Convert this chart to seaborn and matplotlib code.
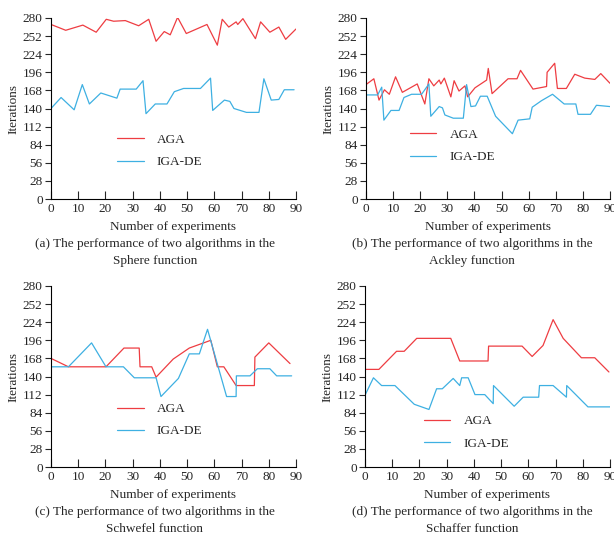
import numpy as np
import pandas as pd
import matplotlib
matplotlib.use("Agg")
import matplotlib.pyplot as plt
import seaborn as sns

# ---- Sphere function ----
sphere_aga_x = [0, 5.4, 11.7, 16.6, 20.3, 23.0, 27.3, 32.2, 35.9, 38.6, 41.6, 43.8, 46.5, 49.7,
                57.3, 61.1, 62.9, 65.3, 68.0, 68.6, 70.5, 75.1, 77.0, 80.4, 83.7, 86.2, 90]
sphere_aga_y = [270, 261, 269, 258, 278, 275, 276, 268, 278, 244, 259, 254, 281, 256,
                270, 238, 278, 266, 274, 270, 279, 248, 274, 258, 266, 247, 263]
sphere_de_x = [0, 3.7, 8.5, 11.5, 14.1, 18.3, 24.2, 25.4, 31.3, 33.8, 34.9, 38.3, 42.6, 45.3,
               48.7, 54.9, 58.6, 59.4, 63.7, 65.7, 67.2, 71.8, 76.4, 78.2, 80.9, 83.7, 85.7, 89.3]
sphere_de_y = [140, 157, 138, 177, 147, 164, 156, 170, 170, 183, 132, 147, 147, 166,
               171, 171, 187, 137, 153, 151, 140, 134, 134, 186, 153, 154, 169, 169]

# ---- Ackley function ----
ackley_aga_x = [0, 2.9, 4.8, 6.8, 8.6, 10.9, 13.4, 18.9, 21.7, 23.2, 25.0, 27.0, 27.6, 28.9,
                31.3, 32.5, 34.3, 36.5, 37.5, 40.2, 44.5, 45.1, 46.5, 52.4, 55.7, 57.0, 61.6,
                66.6, 66.8, 69.6, 70.6, 73.9, 77.0, 80.7, 84.4, 86.6, 90]
ackley_aga_y = [177, 186, 153, 169, 162, 189, 165, 178, 147, 186, 175, 184, 178, 187,
                158, 183, 167, 175, 158, 172, 184, 202, 163, 186, 186, 199, 170,
                174, 196, 210, 171, 171, 193, 187, 185, 194, 179]
ackley_de_x = [0, 4.3, 5.8, 6.6, 9.2, 12.2, 14.0, 16.8, 20.5, 23.2, 23.9, 27.0, 28.2, 29.1,
               32.2, 35.9, 37.1, 38.7, 40.4, 42.2, 44.7, 47.8, 54.0, 56.1, 60.4, 61.3, 64.7,
               68.8, 73.1, 77.4, 78.2, 82.8, 85.0, 90]
ackley_de_y = [161, 161, 173, 122, 137, 137, 157, 162, 162, 178, 128, 143, 141, 130,
               125, 125, 177, 143, 144, 159, 159, 128, 101, 122, 124, 142, 152,
               162, 147, 147, 131, 131, 145, 143]

# ---- Schwefel function ----
schwefel_aga_x = [0, 6.4, 20.2, 26.8, 32.4, 32.7, 37.0, 38.6, 44.9, 50.8, 58.7, 61.1, 63.5,
                  68.0, 74.7, 74.9, 80.0, 87.8]
schwefel_aga_y = [168, 155, 155, 184, 184, 155, 155, 139, 167, 184, 196, 155, 155,
                  126, 126, 170, 192, 160]
schwefel_de_x = [0, 6.4, 14.9, 20.2, 26.6, 30.6, 38.6, 40.4, 46.8, 50.8, 54.5, 57.5, 64.5,
                 68.0, 68.1, 73.1, 75.8, 80.4, 82.9, 88.4]
schwefel_de_y = [155, 155, 192, 155, 155, 138, 138, 109, 137, 175, 175, 213, 109,
                 109, 141, 141, 152, 152, 141, 141]

# ---- Schaffer function ----
schaffer_aga_x = [0, 5.1, 11.6, 14.4, 19.0, 31.5, 34.8, 45.2, 45.4, 57.7, 61.4, 65.4, 69.1,
                  72.8, 79.5, 84.4, 89.6]
schaffer_aga_y = [151, 151, 179, 179, 199, 199, 164, 164, 187, 187, 171, 188, 228,
                  199, 169, 169, 147]
schaffer_de_x = [0, 3.1, 6.1, 11.0, 18.1, 23.5, 26.3, 28.4, 32.4, 34.8, 35.5, 37.9, 40.4,
                 44.0, 47.1, 47.2, 54.8, 58.1, 63.8, 64.1, 69.1, 74.0, 74.1, 81.9, 90]
schaffer_de_y = [111, 138, 126, 126, 97, 89, 121, 121, 137, 126, 138, 138, 112,
                 112, 98, 126, 94, 108, 108, 126, 126, 108, 126, 93, 93]

series_names = ["AGA", "IGA-DE"]
x_ticks = list(range(0, 91, 10))
y_ticks = list(range(0, 281, 28))
captions = [
    "(a) The performance of two algorithms in the\nSphere function",
    "(b) The performance of two algorithms in the\nAckley function",
    "(c) The performance of two algorithms in the\nSchwefel function",
    "(d) The performance of two algorithms in the\nSchaffer function",
]

panels = [
    (sphere_aga_x, sphere_aga_y, sphere_de_x, sphere_de_y),
    (ackley_aga_x, ackley_aga_y, ackley_de_x, ackley_de_y),
    (schwefel_aga_x, schwefel_aga_y, schwefel_de_x, schwefel_de_y),
    (schaffer_aga_x, schaffer_aga_y, schaffer_de_x, schaffer_de_y),
]

sns.set_theme(style="ticks")
plt.rcParams["font.family"] = ["Liberation Serif", "DejaVu Serif"]
plt.rcParams["font.size"] = 9.5

palette = {"AGA": "#ee3d42", "IGA-DE": "#3eb0e2"}

W, H = 614, 538
fig = plt.figure(figsize=(W / 100, H / 100), dpi=100)

# axes boxes in pixel units: left, top, right, bottom
boxes = [(51, 18, 296, 199), (366, 18, 610, 199),
         (51, 286, 296, 467), (365, 286, 610, 467)]
caption_cx = [155, 472, 155, 472]
legend_pos = [(0.27, 0.265), (0.18, 0.293), (0.27, 0.258), (0.24, 0.191)]

for i, (box, data) in enumerate(zip(boxes, panels)):
    l, t, r, b = box
    ax = fig.add_axes([l / W, 1 - b / H, (r - l) / W, (b - t) / H])
    ax_x, ax_y, de_x, de_y = data
    df = pd.concat([
        pd.DataFrame({"x": ax_x, "y": ax_y, "alg": series_names[0]}),
        pd.DataFrame({"x": de_x, "y": de_y, "alg": series_names[1]}),
    ], ignore_index=True)
    sns.lineplot(data=df, x="x", y="y", hue="alg", palette=palette,
                 estimator=None, sort=False, linewidth=0.9, ax=ax)
    ax.set_xlim(0, 90)
    ax.set_ylim(0, 280)
    ax.set_xticks(x_ticks)
    ax.set_yticks(y_ticks)
    ax.tick_params(axis="x", direction="in", length=6, width=0.8, pad=3, labelsize=9.5)
    ax.tick_params(axis="y", direction="out", length=4, width=0.8, pad=2, labelsize=9.5)
    for s in ("top", "right"):
        ax.spines[s].set_visible(False)
    for s in ("left", "bottom"):
        ax.spines[s].set_linewidth(0.8)
        ax.spines[s].set_color("black")
    ax.set_xlabel("Number of experiments", fontsize=9.5, labelpad=4.5)
    ax.set_ylabel("Iterations", fontsize=9.5, labelpad=2)
    handles, labels = ax.get_legend_handles_labels()
    ax.legend(handles, labels, loc="center left", bbox_to_anchor=legend_pos[i],
              frameon=False, fontsize=9.5, handlelength=2.0, handletextpad=1.0,
              labelspacing=0.75, borderpad=0, borderaxespad=0)
    fig.text(caption_cx[i] / W, 1 - (b + 39) / H, captions[i], ha="center", va="top",
             fontsize=9.5, linespacing=1.55)

fig.savefig("out.png", dpi=100)
